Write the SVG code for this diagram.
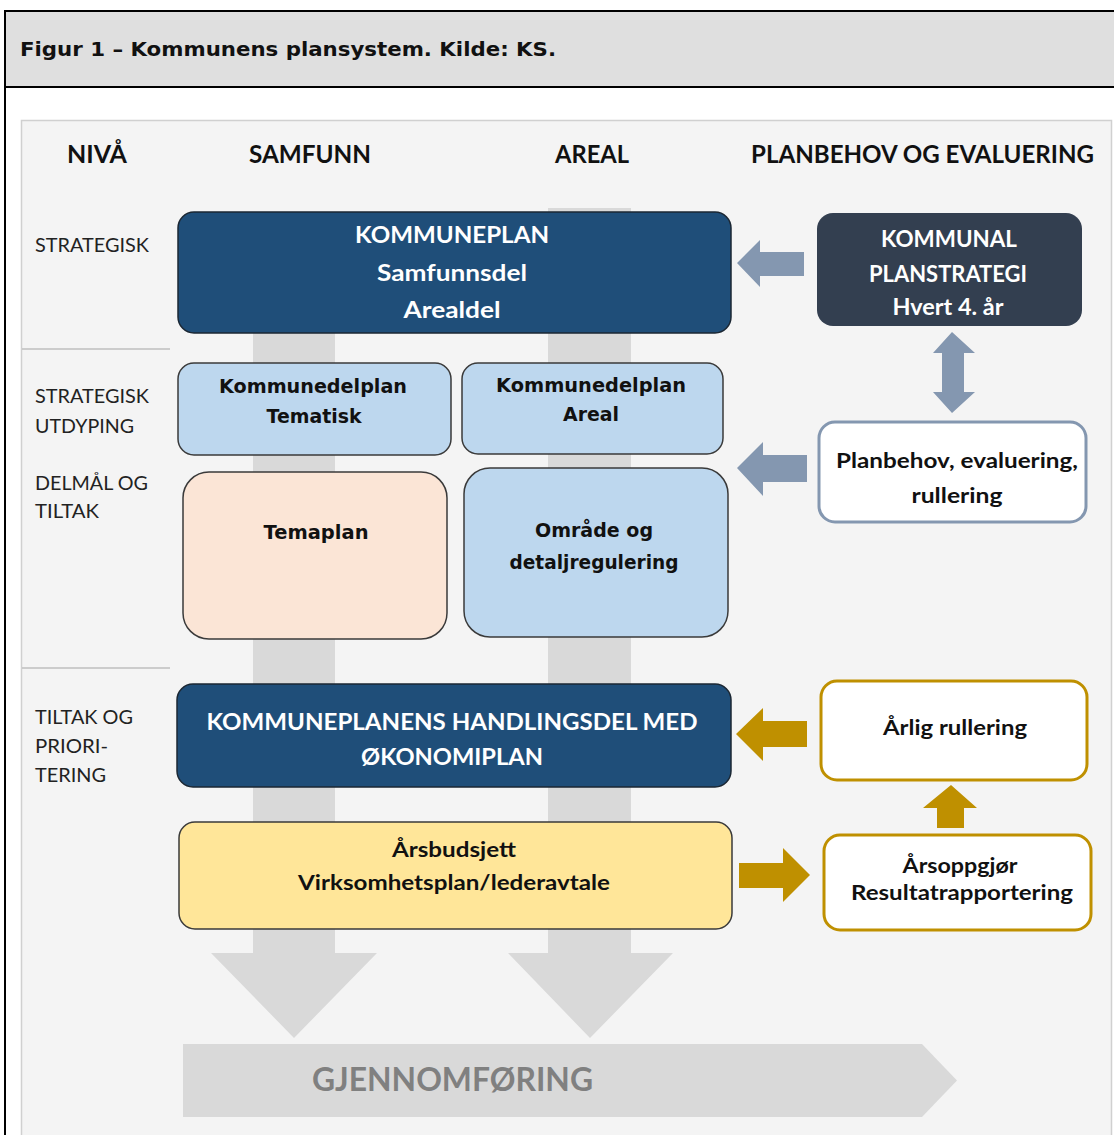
<svg xmlns="http://www.w3.org/2000/svg" width="1114" height="1135" viewBox="0 0 1114 1135">
<style>
.cal{font-family:Lato,'Open Sans','Liberation Sans',sans-serif}
.ver{font-family:'DejaVu Sans',Verdana,sans-serif}
.b{font-weight:bold}
.hd{font-size:24px;fill:#111}
.lv{font-size:20px;fill:#222}
.wt{fill:#fff;font-size:22px;font-weight:bold;text-anchor:middle}
.bk{fill:#111;font-size:20px;font-weight:bold;text-anchor:middle}
.band{fill:#d9d9d9}
.blueA{fill:#8497b0}
.gold{fill:#bf9000}
.sep{stroke:#bfbfbf;stroke-width:1.5}
</style>
<rect x="0" y="0" width="1114" height="1135" fill="#fff"/>
<!-- header -->
<rect x="5" y="11" width="1110" height="76" fill="#dfdfdf"/>
<line x1="4" y1="11" x2="1114" y2="11" stroke="#000" stroke-width="2"/>
<line x1="4" y1="87" x2="1114" y2="87" stroke="#000" stroke-width="2"/>
<line x1="5" y1="10" x2="5" y2="1135" stroke="#000" stroke-width="2"/>
<text class="ver b" x="20" y="56" font-size="20" textLength="536" lengthAdjust="spacingAndGlyphs" fill="#111">Figur 1 – Kommunens plansystem. Kilde: KS.</text>
<!-- panel -->
<rect x="21.5" y="120.5" width="1090" height="1040" fill="#f4f4f4" stroke="#d0d0d0" stroke-width="1.5"/>
<line class="sep" x1="22" y1="349" x2="170" y2="349"/>
<line class="sep" x1="22" y1="668" x2="170" y2="668"/>
<!-- column headings -->
<g id="headings">
<text class="cal b hd" x="67" y="163" textLength="60" lengthAdjust="spacingAndGlyphs">NIVÅ</text>
<text class="cal b hd" x="249" y="163" textLength="122" lengthAdjust="spacingAndGlyphs">SAMFUNN</text>
<text class="cal b hd" x="555" y="163" textLength="74" lengthAdjust="spacingAndGlyphs">AREAL</text>
<text class="cal b hd" x="751" y="163" textLength="343" lengthAdjust="spacingAndGlyphs">PLANBEHOV OG EVALUERING</text>
</g>
<g id="levels">
<text class="cal lv" x="35" y="252" textLength="114" lengthAdjust="spacingAndGlyphs">STRATEGISK</text>
<text class="cal lv" x="35" y="403" textLength="114" lengthAdjust="spacingAndGlyphs">STRATEGISK</text>
<text class="cal lv" x="35" y="433" textLength="99" lengthAdjust="spacingAndGlyphs">UTDYPING</text>
<text class="cal lv" x="35" y="490" textLength="113" lengthAdjust="spacingAndGlyphs">DELMÅL OG</text>
<text class="cal lv" x="35" y="518" textLength="64" lengthAdjust="spacingAndGlyphs">TILTAK</text>
<text class="cal lv" x="35" y="724" textLength="98" lengthAdjust="spacingAndGlyphs">TILTAK OG</text>
<text class="cal lv" x="35" y="753" textLength="73" lengthAdjust="spacingAndGlyphs">PRIORI-</text>
<text class="cal lv" x="35" y="782" textLength="71" lengthAdjust="spacingAndGlyphs">TERING</text>
</g>
<!-- connectors -->
<g id="connectors">
<path class="band" d="M253,220 H335 V953 H377 L294,1038 L211,953 H253 Z"/>
<path class="band" d="M548,208 H631 V953 H673 L590,1038 L508,953 H548 Z"/>
<path class="band" d="M183,1044 H922 L957,1080.5 L922,1117 H183 Z"/>
<path class="blueA" d="M804,252 V276 H760 V287 L737,263 L760,240 V252 Z"/>
<path class="blueA" d="M807,455 V482 H763 V496 L737,468 L763,442 V455 Z"/>
<path class="blueA" d="M952,332 L975,353 H964 V392 H975 L952,413 L933,392 H942 V353 H933 Z"/>
<path class="gold" d="M807,721 V747 H763 V761 L736,734 L763,708 V721 Z"/>
<path class="gold" d="M937,828 V808 H923 L951,785 L977,808 H964 V828 Z"/>
<path class="gold" d="M739,863 H783 V848 L810,875 L783,902 V888 H739 Z"/>
</g>
<text class="cal b" x="312" y="1091" font-size="32" fill="#808080" textLength="281" lengthAdjust="spacingAndGlyphs">GJENNOMFØRING</text>
<!-- nodes -->
<g id="kommuneplan">
<rect x="178" y="212" width="553" height="121" rx="16" fill="#1f4e79" stroke="#1b2733" stroke-width="1.5"/>
<text class="cal wt" x="452" y="243" textLength="194" lengthAdjust="spacingAndGlyphs">KOMMUNEPLAN</text>
<text class="cal wt" x="452" y="281" textLength="150" lengthAdjust="spacingAndGlyphs">Samfunnsdel</text>
<text class="cal wt" x="452" y="318" textLength="97" lengthAdjust="spacingAndGlyphs">Arealdel</text>
</g>
<g id="planstrategi">
<rect x="817" y="213" width="265" height="113" rx="16" fill="#333f50"/>
<text class="cal wt" x="949" y="247" font-size="20" textLength="136" lengthAdjust="spacingAndGlyphs">KOMMUNAL</text>
<text class="cal wt" x="948" y="282" font-size="20" textLength="158" lengthAdjust="spacingAndGlyphs">PLANSTRATEGI</text>
<text class="cal wt" x="948" y="315" font-size="20" textLength="111" lengthAdjust="spacingAndGlyphs">Hvert 4. år</text>
</g>
<g id="kdp-tematisk">
<rect x="178" y="363" width="273" height="92" rx="16" fill="#bdd7ee" stroke="#3a3a3a" stroke-width="1.5"/>
<text class="ver bk" x="313" y="393" textLength="188" lengthAdjust="spacingAndGlyphs">Kommunedelplan</text>
<text class="ver bk" x="314" y="423" textLength="95" lengthAdjust="spacingAndGlyphs">Tematisk</text>
</g>
<g id="kdp-areal">
<rect x="462" y="363" width="261" height="91" rx="16" fill="#bdd7ee" stroke="#3a3a3a" stroke-width="1.5"/>
<text class="ver bk" x="591" y="392" textLength="190" lengthAdjust="spacingAndGlyphs">Kommunedelplan</text>
<text class="ver bk" x="591" y="421" textLength="56" lengthAdjust="spacingAndGlyphs">Areal</text>
</g>
<g id="temaplan">
<rect x="183" y="472" width="264" height="167" rx="26" fill="#fbe5d6" stroke="#3a3a3a" stroke-width="1.5"/>
<text class="ver bk" x="316" y="539" textLength="105" lengthAdjust="spacingAndGlyphs">Temaplan</text>
</g>
<g id="omrade">
<rect x="464" y="468" width="264" height="169" rx="26" fill="#bdd7ee" stroke="#3a3a3a" stroke-width="1.5"/>
<text class="ver bk" x="594" y="537" textLength="118" lengthAdjust="spacingAndGlyphs">Område og</text>
<text class="ver bk" x="594" y="569" textLength="169" lengthAdjust="spacingAndGlyphs">detaljregulering</text>
</g>
<g id="planbehov">
<rect x="819" y="422" width="267" height="100" rx="16" fill="#fff" stroke="#8497b0" stroke-width="3"/>
<text class="cal bk" x="957" y="468" font-size="21" textLength="242" lengthAdjust="spacingAndGlyphs">Planbehov, evaluering,</text>
<text class="cal bk" x="957" y="503" font-size="21" textLength="91" lengthAdjust="spacingAndGlyphs">rullering</text>
</g>
<g id="handlingsdel">
<rect x="177" y="684" width="554" height="103" rx="16" fill="#1f4e79" stroke="#1b2733" stroke-width="1.5"/>
<text class="cal wt" x="452" y="730" font-size="23" textLength="491" lengthAdjust="spacingAndGlyphs">KOMMUNEPLANENS HANDLINGSDEL MED</text>
<text class="cal wt" x="452" y="765" font-size="23" textLength="182" lengthAdjust="spacingAndGlyphs">ØKONOMIPLAN</text>
</g>
<g id="arsbudsjett">
<rect x="179" y="822" width="553" height="107" rx="16" fill="#ffe699" stroke="#3a3a3a" stroke-width="1.5"/>
<text class="cal bk" x="454" y="857" font-size="21" textLength="124" lengthAdjust="spacingAndGlyphs">Årsbudsjett</text>
<text class="cal bk" x="454" y="890" font-size="21" textLength="312" lengthAdjust="spacingAndGlyphs">Virksomhetsplan/lederavtale</text>
</g>
<g id="arlig">
<rect x="821" y="681" width="266" height="99" rx="16" fill="#fff" stroke="#bf9000" stroke-width="3"/>
<text class="cal bk" x="955" y="735" font-size="21" textLength="144" lengthAdjust="spacingAndGlyphs">Årlig rullering</text>
</g>
<g id="arsoppgjor">
<rect x="824" y="835" width="267" height="95" rx="16" fill="#fff" stroke="#bf9000" stroke-width="3"/>
<text class="cal bk" x="960" y="873" font-size="21" textLength="115" lengthAdjust="spacingAndGlyphs">Årsoppgjør</text>
<text class="cal bk" x="962" y="900" font-size="21" textLength="222" lengthAdjust="spacingAndGlyphs">Resultatrapportering</text>
</g>
</svg>
